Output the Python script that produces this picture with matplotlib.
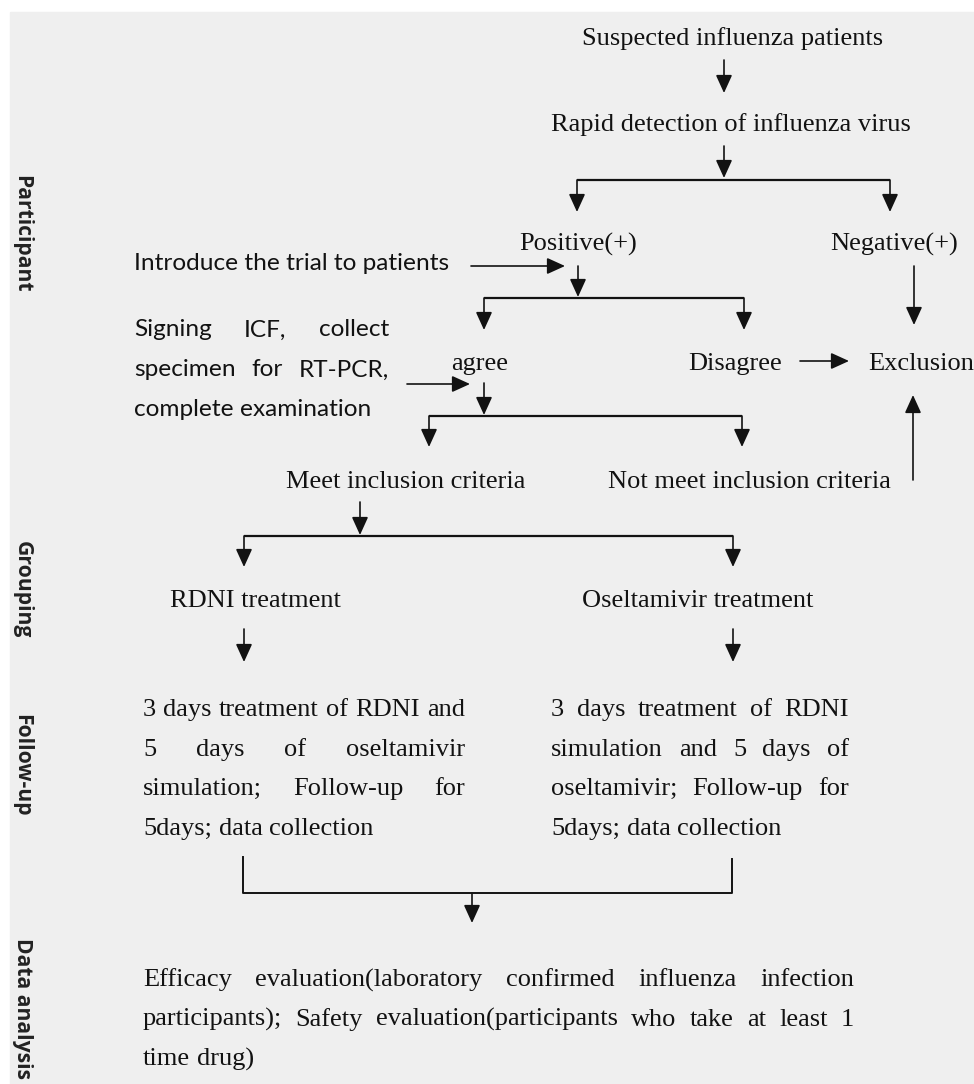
import matplotlib
matplotlib.use("Agg")
import matplotlib.pyplot as plt
from matplotlib.patches import Rectangle

SERIF = "Liberation Serif"
SANS = "Lato"
BOLD = "Open Sans"

# flow nodes (serif)
node_text = ["Suspected influenza patients", "Rapid detection of influenza virus",
             "Positive(+)", "Negative(+)", "agree", "Disagree",
             "Meet inclusion criteria", "Not meet inclusion criteria",
             "RDNI treatment", "Oseltamivir treatment"]
node_xy = [(733, 39), (731, 125), (578, 244), (894, 244), (480, 364), (735, 364),
           (406, 482), (749, 482), (255, 601), (698, 601)]
exclusion_text = "Exclusion"

# stage labels down the left edge
stage_names = ["Participant", "Grouping", "Follow-up", "Data analysis"]
stage_y = [234, 590, 765, 938]

# side notes (sans)
intro_note = "Introduce the trial to patients"
icf_lines = ["Signing ICF, collect", "specimen for RT-PCR,", "complete examination"]

# paragraphs (serif, justified)
rdni_lines = ["3 days treatment of RDNI and", "5 days of oseltamivir",
              "simulation; Follow-up for", "5days; data collection"]
osel_lines = ["3 days treatment of RDNI", "simulation and 5 days of",
              "oseltamivir; Follow-up for", "5days; data collection"]
eval_lines = ["Efficacy evaluation(laboratory confirmed influenza infection",
              "participants); Safety evaluation(participants who take at least 1",
              "time drug)"]

# arrows (tail -> head) and plain connector lines
arrows = [((724, 60), (724, 93)), ((724, 146), (724, 178)),
          ((577, 180), (577, 212)), ((890, 180), (890, 212)),
          ((471, 266), (565, 266)), ((578, 266), (578, 297)),
          ((484, 298), (484, 330)), ((744, 298), (744, 330)),
          ((914, 266), (914, 325)), ((800, 361), (849, 361)),
          ((913, 480), (913, 395)), ((407, 384), (470, 384)),
          ((484, 383), (484, 415)), ((429, 416), (429, 447)),
          ((742, 416), (742, 447)), ((360, 502), (360, 535)),
          ((244, 536), (244, 567)), ((733, 536), (733, 567)),
          ((244, 629), (244, 662)), ((733, 629), (733, 662)),
          ((472, 893), (472, 923))]
hlines = [((577, 180), (890, 180)), ((484, 298), (744, 298)),
          ((429, 416), (742, 416)), ((244, 536), (733, 536))]
bracket = [(243, 857), (243, 893), (732, 893), (732, 859)]

fig = plt.figure(figsize=(9.74, 10.84), dpi=100)
fig.patch.set_facecolor("white")
ax = fig.add_axes([0, 0, 1, 1])
ax.set_xlim(0, 974)
ax.set_ylim(1084, 0)
ax.axis("off")
ax.add_patch(Rectangle((10, 12), 970, 1080, color="#efefef", zorder=0))
renderer = fig.canvas.get_renderer()
ink = "#121212"

def width_of(t):
    return t.get_window_extent(renderer).width

def justify(words_line, x0, x1, y, last=False, **kw):
    words = words_line.split()
    texts = [ax.text(0, y, w, ha="left", va="center", color=ink, **kw) for w in words]
    widths = [width_of(t) for t in texts]
    if last or len(words) == 1:
        sp = ax.text(0, y, "a a", **kw)
        sp2 = ax.text(0, y, "aa", **kw)
        gap = width_of(sp) - width_of(sp2)
        sp.remove(); sp2.remove()
    else:
        gap = (x1 - x0 - sum(widths)) / (len(words) - 1)
    x = x0
    for t, w in zip(texts, widths):
        t.set_x(x)
        x += w + gap

# fit the sans size so the intro line spans its width in the picture
probe = ax.text(0, 0, intro_note, fontsize=10, family=SANS)
sans_size = 10 * 315 / width_of(probe)
probe.remove()

serif_size = 19
for s, (x, y) in zip(node_text, node_xy):
    ax.text(x, y, s, ha="center", va="center", fontsize=serif_size, family=SERIF, color=ink)
ax.text(868, 364, exclusion_text, ha="left", va="center", fontsize=serif_size,
        family=SERIF, color=ink)

ax.text(134, 264, intro_note, ha="left", va="center", fontsize=sans_size, family=SANS, color=ink)
for i, (ln, y) in enumerate(zip(icf_lines, [330, 370, 409])):
    justify(ln, 134, 389, y, last=(i == len(icf_lines) - 1), fontsize=sans_size, family=SANS)

for lines, x0, x1 in [(rdni_lines, 143, 465), (osel_lines, 551, 849)]:
    for i, ln in enumerate(lines):
        justify(ln, x0, x1, 710 + 39.6 * i, last=(i == len(lines) - 1),
                fontsize=serif_size, family=SERIF)
for i, ln in enumerate(eval_lines):
    justify(ln, 143, 854, 980 + 39.5 * i, last=(i == len(eval_lines) - 1),
            fontsize=serif_size, family=SERIF)

for name, y in zip(stage_names, stage_y):
    va = "top" if name == "Data analysis" else "center"
    ax.text(22, y, name, rotation=270, ha="center", va=va, fontsize=15.2,
            family=BOLD, fontweight="bold", color="#222222")

for (x0, y0), (x1, y1) in hlines:
    ax.plot([x0, x1], [y0, y1], color=ink, lw=1.6, solid_capstyle="butt")
bx, by = zip(*bracket)
ax.plot(bx, by, color=ink, lw=1.4)
for tail, head in arrows:
    ax.annotate("", xy=head, xytext=tail,
                arrowprops=dict(arrowstyle="-|>,head_length=1.1,head_width=0.5",
                                color=ink, lw=1.2, shrinkA=0, shrinkB=0))

fig.savefig("out.png", dpi=100, facecolor=fig.get_facecolor())
